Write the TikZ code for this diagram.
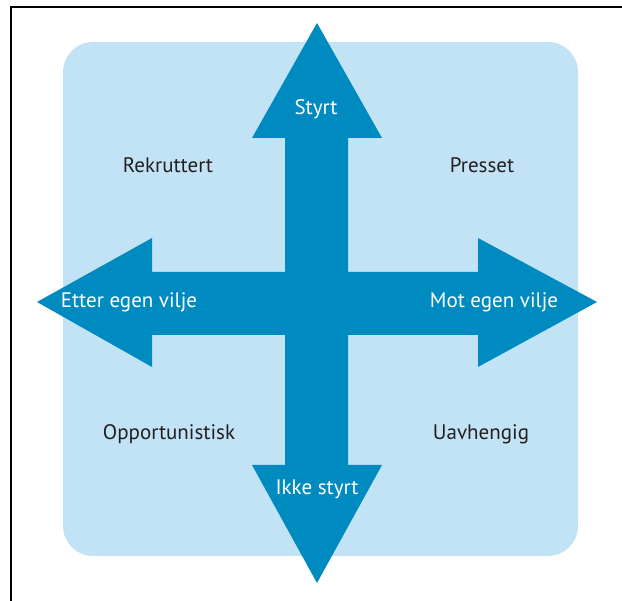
\documentclass[tikz,border=0pt]{standalone}
\usepackage{fontspec}
\setmainfont{PT Sans}
\definecolor{lyseblaa}{RGB}{194,227,245}
\definecolor{moerkblaa}{RGB}{0,139,192}
\definecolor{tekst}{RGB}{35,31,32}
\begin{document}
\begin{tikzpicture}[x=1pt,y=-1pt,font=\fontsize{21}{24}\selectfont]
\useasboundingbox (0,0) rectangle (622,601);
% ramme
\draw[line width=2pt] (11,601)--(11,7)--(622,7);
% bakgrunn
\fill[lyseblaa,rounded corners=30pt] (63,42) rectangle (578,556);
% korset med fire piler
\fill[moerkblaa] (317,23)--(382,138)--(348,138)--(348,272)--(478,272)--(478,238)
  --(597,302)--(478,367)--(478,335)--(348,335)--(348,465)--(382,465)
  --(317,583)--(252,465)--(285,465)--(285,335)--(152,335)--(152,367)
  --(37,302)--(152,238)--(152,272)--(285,272)--(285,138)--(252,138)--cycle;
% pilene
\node[white,anchor=base] (styrt) at (316,115) {Styrt};
\node[white,anchor=base] (ikke) at (317,495) {Ikke styrt};
\node[white,anchor=base] (etter) at (129,308) {Etter egen vilje};
\node[white,anchor=base] (mot) at (494,308) {Mot egen vilje};
% kvadrantene
\node[tekst,anchor=base] (rekr) at (168,173) {Rekruttert};
\node[tekst,anchor=base] (press) at (482,173) {Presset};
\node[tekst,anchor=base] (opp) at (169,440) {Opportunistisk};
\node[tekst,anchor=base] (uavh) at (481,440) {Uavhengig};
\end{tikzpicture}
\end{document}
